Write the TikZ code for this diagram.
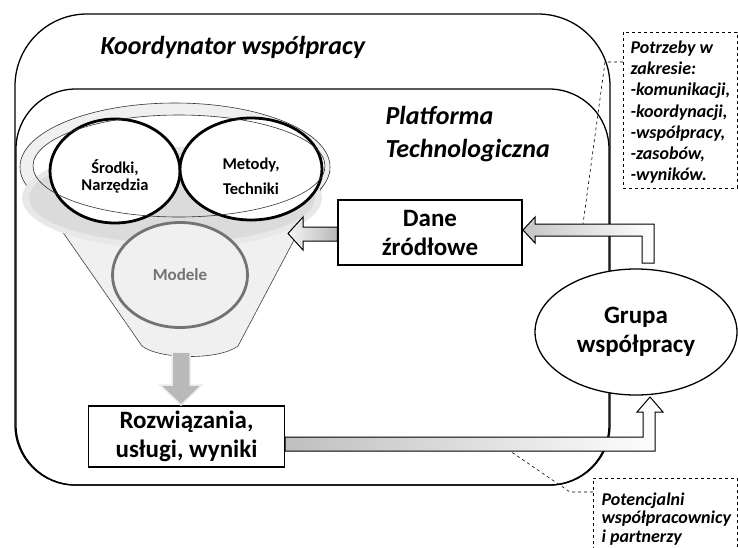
\documentclass[tikz,border=0pt]{standalone}
\usepackage{fontspec}
\setmainfont{Carlito}
\usetikzlibrary{shapes.geometric}
\newcommand\dgBig{\fontsize{25}{29}\selectfont\bfseries}
\newcommand\dgTitle{\fontsize{26}{33}\selectfont\bfseries\itshape}
\newcommand\dgSmall{\fontsize{16.5}{17}\selectfont\bfseries}
\newcommand\dgNote{\fontsize{18}{21.3}\selectfont\bfseries\itshape}
\tikzset{
  frame/.style={draw=black, line width=1.3pt},
  textbox/.style={draw=black, line width=1.3pt, fill=white, align=center, font=\dgBig, inner sep=0pt},
  blob/.style={ellipse, draw=black, line width=2.8pt, fill=white, align=center, font=\dgSmall, inner sep=0pt},
  blockarrow/.style={draw=black, line width=1pt},
  note/.style={draw=black, dashed, line width=0.8pt},
  pointer/.style={draw=black, dashed, line width=0.6pt},
}
\begin{document}
\begin{tikzpicture}[x=1pt,y=-1pt]
\useasboundingbox (0,0) rectangle (738,547);
\fill[white] (0,0) rectangle (738,547);

% containers
\draw[frame] (15,425) -- (15,86) arc[start angle=180, end angle=270, radius=72]
  -- (538,14) arc[start angle=270, end angle=360, radius=72]
  -- (610,425) arc[start angle=0, end angle=90, radius=60]
  -- (75,485) arc[start angle=90, end angle=180, radius=60] -- cycle;
\draw[frame, rounded corners=60pt] (16,89) rectangle (609,485);

\node[font=\dgTitle, anchor=west] (koord) at (97,47) {Koordynator współpracy};
\node[font=\dgTitle, anchor=north west, align=left] (plat) at (382,103) {Platforma\\Technologiczna};

% funnel
\filldraw[fill=gray!12, draw=black!75, line width=0.6pt]
  (21,172) -- (142,346) .. controls (160,360) and (220,360) .. (238,346) -- (330,172) -- cycle;
\filldraw[fill=gray!12, draw=black!80, line width=0.6pt] (175,167) ellipse [x radius=155, y radius=64];
\fill[white] (179,166) ellipse [x radius=146, y radius=51];
\fill[gray!18] (172,198) ellipse [x radius=150, y radius=51];
\fill[gray!28] (172,198) ellipse [x radius=143, y radius=45];
\node[blob, minimum width=130pt, minimum height=104pt] (srodki) at (115,171) {};
\node[blob, minimum width=142pt, minimum height=102pt] (metody) at (251,169) {};
\draw[black!80, line width=0.6pt] (179,166) ellipse [x radius=146, y radius=51];
\node[font=\dgSmall, align=center] (srodkit) at (115,176) {Środki,\\Narzędzia};
\node[font=\fontsize{16.5}{25}\selectfont\bfseries, align=center] (metodyt) at (251,176) {Metody,\\Techniki};
\node[ellipse, draw=black!55, line width=2.8pt, fill=gray!12, minimum width=135pt, minimum height=105pt,
      font=\fontsize{17}{20}\selectfont\bfseries, text=black!55] (modele) at (180,275) {Modele};

% boxes
\node[textbox, minimum width=184pt, minimum height=65pt] (dane) at (430,232.5) {Dane\\źródłowe};
\node[textbox, minimum width=196pt, minimum height=61pt] (rozw) at (186.5,436.5) {Rozwiązania,\\usługi, wyniki};
\node[ellipse, draw=black, line width=1.3pt, fill=white, minimum width=202pt, minimum height=126pt,
      inner sep=0pt, align=center, font=\dgBig] (grupa) at (636,332) {Grupa\\współpracy};

% block arrows
\coordinate (tipDane) at (523,230);
\shadedraw[blockarrow, left color=gray!45, right color=white]
  (654,263) -- (654,224) -- (535,224) -- (535,217) -- (tipDane) -- (535,243) -- (535,236)
  -- (642,236) -- (642,263) -- cycle;
\coordinate (tipFunnel) at (288,233.5);
\shadedraw[blockarrow, left color=gray!8, right color=gray!55]
  (dane.west |- 0,227) -- (303,227) -- (303,217) -- (tipFunnel) -- (303,250) -- (303,241)
  -- (dane.west |- 0,241) -- cycle;
\coordinate (tipGrupa) at (650,397);
\shadedraw[blockarrow, left color=gray!50, right color=white]
  (rozw.east |- 0,437) -- (643,437) -- (643,412) -- (637,412) -- (tipGrupa) -- (663,412)
  -- (655,412) -- (655,451) -- (rozw.east |- 0,451) -- cycle;
\coordinate (tipRozw) at (181,405);
\filldraw[fill=gray!55, draw=gray!15, line width=1.5pt]
  (172,352) -- (190,352) -- (190,385) -- (202,385) -- (tipRozw) -- (160,385) -- (172,385) -- cycle;

% notes
\draw[note] (623,32) rectangle (737,188);
\node[font=\dgNote, anchor=north west, align=left] (potrzeby) at (627,37)
  {Potrzeby w\\zakresie:\\-komunikacji,\\-koordynacji,\\-współpracy,\\-zasobów,\\-wyników.};
\coordinate (p1) at (605,62);
\draw[pointer] (623,62) -- (p1) -- (583,224);

\draw[note] (593,550) -- (593,478) -- (737,478) -- (737,550);
\node[font=\fontsize{18}{18.5}\selectfont\bfseries\itshape, anchor=north west, align=left] (potenc) at (598,489)
  {Potencjalni\\współpracownicy\\i partnerzy};
\coordinate (p2) at (570,492);
\draw[pointer] (593,492) -- (p2) -- (510,451);
\end{tikzpicture}
\end{document}
